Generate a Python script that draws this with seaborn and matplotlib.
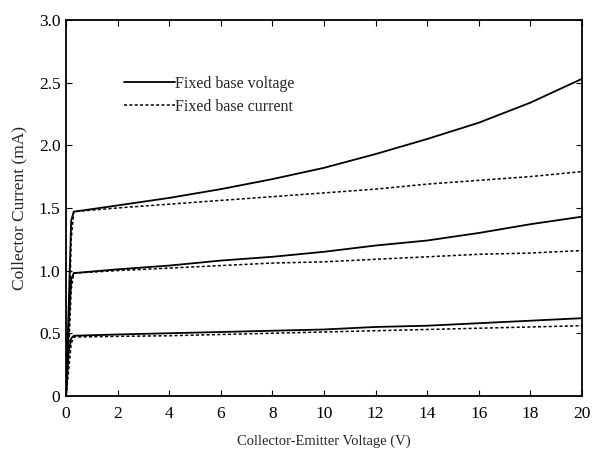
import numpy as np
import pandas as pd
import matplotlib
matplotlib.use("Agg")
import matplotlib.pyplot as plt
import seaborn as sns

sns.set_style("ticks")
plt.rcParams['font.family'] = ['Liberation Serif', 'DejaVu Serif']

# Collector-emitter voltage (V)
vce = [0, 0.1, 0.2, 0.3, 2, 4, 6, 8, 10, 12, 14, 16, 18, 20]

# Fixed base voltage (solid) curves, collector current (mA)
fbv_high = [0, 0.70, 1.40, 1.47, 1.52, 1.58, 1.65, 1.73, 1.82, 1.93, 2.05, 2.18, 2.34, 2.53]
fbv_mid = [0, 0.55, 0.93, 0.98, 1.01, 1.04, 1.08, 1.11, 1.15, 1.20, 1.24, 1.30, 1.37, 1.43]
fbv_low = [0, 0.35, 0.46, 0.48, 0.49, 0.50, 0.51, 0.52, 0.53, 0.55, 0.56, 0.58, 0.60, 0.62]

# Fixed base current (dashed) curves, collector current (mA)
fbc_high = [0, 0.45, 1.25, 1.47, 1.50, 1.53, 1.56, 1.59, 1.62, 1.65, 1.69, 1.72, 1.75, 1.79]
fbc_mid = [0, 0.35, 0.85, 0.98, 1.00, 1.02, 1.04, 1.06, 1.07, 1.09, 1.11, 1.13, 1.14, 1.16]
fbc_low = [0, 0.20, 0.42, 0.47, 0.475, 0.48, 0.49, 0.50, 0.51, 0.52, 0.53, 0.54, 0.55, 0.56]

fig = plt.figure(figsize=(5.95, 4.54), dpi=100)
ax = fig.add_axes([0.111, 0.128, 0.867, 0.828])

solid = [fbv_high, fbv_mid, fbv_low]
dashed = [fbc_high, fbc_mid, fbc_low]
for i, ys in enumerate(solid):
    sns.lineplot(x=vce, y=ys, ax=ax, color='black', lw=1.3, linestyle='-',
                 label='Fixed base voltage' if i == 0 else None)
for i, ys in enumerate(dashed):
    sns.lineplot(x=vce, y=ys, ax=ax, color='black', lw=1.1, linestyle=(0, (2, 1.5)),
                 label='Fixed base current' if i == 0 else None)

ax.set_xlim(0, 20)
ax.set_ylim(0, 3.0)
ax.set_xticks(range(0, 21, 2))
ax.set_yticks([0, 0.5, 1.0, 1.5, 2.0, 2.5, 3.0])
ax.set_yticklabels(['0', '0.5', '1.0', '1.5', '2.0', '2.5', '3.0'])
ax.tick_params(direction='in', top=True, right=True, labelsize=12.5, length=4, colors='black')
ax.tick_params(axis='x', pad=7)
ax.tick_params(axis='y', pad=4)
for s in ax.spines.values():
    s.set_color('black')
    s.set_linewidth(1.3)
ax.set_xlabel('Collector-Emitter Voltage (V)', fontsize=10.5, labelpad=9)
ax.set_ylabel('Collector Current (mA)', fontsize=12.5, labelpad=8)

leg = ax.legend(loc='upper left', bbox_to_anchor=(0.085, 0.89), frameon=False,
                fontsize=11.5, handlelength=3.2, handletextpad=0.0, labelspacing=0.45)

fig.savefig('out.png', dpi=100)
